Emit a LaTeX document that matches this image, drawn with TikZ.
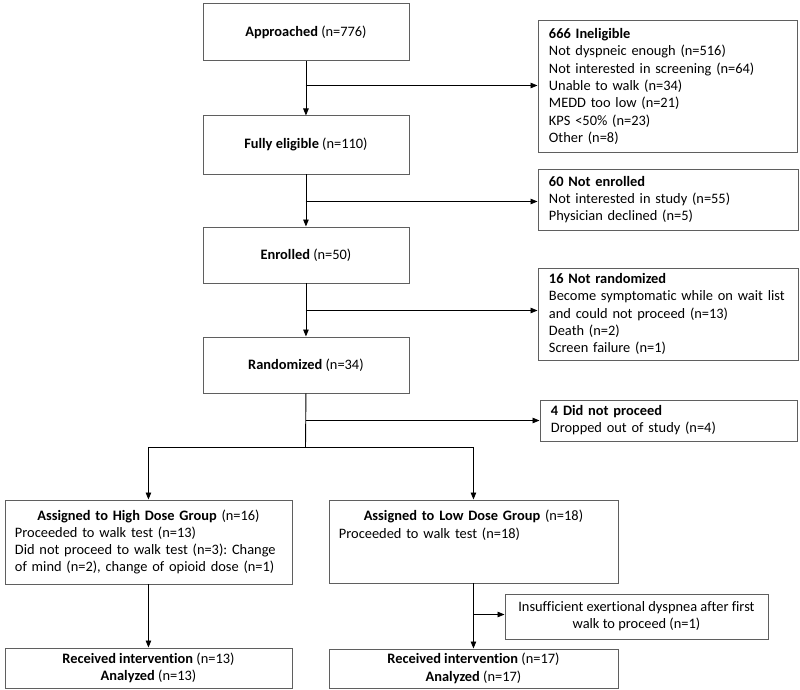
\documentclass[tikz,border=0pt]{standalone}
\usepackage{fontspec}
\setmainfont{Carlito}[Ligatures=NoCommon]
\usetikzlibrary{arrows.meta}
\definecolor{boxgray}{RGB}{95,95,95}
\frenchspacing
\begin{document}
\begin{tikzpicture}[x=1pt,y=-1pt,
  box/.style={draw=boxgray, line width=0.9pt, inner sep=0pt, anchor=north west,
    font=\fontsize{14.4}{17.3}\selectfont},
  mainbox/.style={box, align=center},
  sidebox/.style={box, align=left, inner xsep=11pt},
  arr/.style={line width=0.9pt, -{Triangle[length=7pt,width=5.5pt]}},
  ln/.style={line width=0.9pt}]
\useasboundingbox (0,0) rectangle (800,690);

% main column
\node[mainbox, minimum width=206pt, minimum height=57pt] (appr) at (202.5,3.5) {\textbf{Approached} (n=776)};
\node[mainbox, minimum width=206pt, minimum height=58pt] (elig) at (202.5,115.5) {\textbf{Fully eligible} (n=110)};
\node[mainbox, minimum width=206pt, minimum height=56pt] (enr) at (202.5,226.5) {\textbf{Enrolled} (n=50)};
\node[mainbox, minimum width=206pt, minimum height=56pt] (rand) at (202.5,336.5) {\textbf{Randomized} (n=34)};

% side boxes
\node[sidebox, minimum width=259pt, minimum height=131pt, text width=237pt] (inel) at (537.5,20.5)
  {\textbf{666 Ineligible}\\Not dyspneic enough (n=516)\\Not interested in screening (n=64)\\Unable to walk (n=34)\\MEDD too low (n=21)\\KPS <50\% (n=23)\\Other (n=8)};
\node[sidebox, minimum width=260pt, minimum height=61pt, text width=238pt] (nenr) at (537.5,168.5)
  {\textbf{60 Not enrolled}\\Not interested in study (n=55)\\Physician declined (n=5)};
\node[sidebox, minimum width=260pt, minimum height=92pt, text width=238pt] (nrand) at (537.5,267.5)
  {\textbf{16 Not randomized}\\Become symptomatic while on wait list\\and could not proceed (n=13)\\Death (n=2)\\Screen failure (n=1)};
\node[sidebox, minimum width=257pt, minimum height=41pt, text width=235pt] (dnp) at (539.5,399.5)
  {\textbf{4 Did not proceed}\\Dropped out of study (n=4)};

% groups
\node[box, align=left, inner xsep=10pt, minimum width=287pt, minimum height=84pt, text width=267pt] (high) at (4.5,499.5)
  {{\centering\textbf{Assigned to High Dose Group} (n=16)\par}Proceeded to walk test (n=13)\\Did not proceed to walk test (n=3): Change\\of mind (n=2), change of opioid dose (n=1)};
\node[box, align=left, inner xsep=10pt, minimum width=289pt, minimum height=83pt, text width=269pt] (low) at (328.5,499.5)
  {{\centering\textbf{Assigned to Low Dose Group} (n=18)\par}Proceeded to walk test (n=18)\par\mbox{}\par\mbox{}};
\node[mainbox, minimum width=263pt, minimum height=45pt] (insuf) at (504.5,593.5)
  {Insufficient exertional dyspnea after first\\walk to proceed (n=1)};
\node[mainbox, minimum width=287pt, minimum height=40pt] (rec1) at (4.5,647.5)
  {\textbf{Received intervention} (n=13)\\\textbf{Analyzed} (n=13)};
\node[mainbox, minimum width=289pt, minimum height=39pt] (rec2) at (328.5,648.5)
  {\textbf{Received intervention} (n=17)\\\textbf{Analyzed} (n=17)};

% connectors
\draw[arr] (appr.south) -- (elig.north);
\draw[arr] (elig.south) -- (enr.north);
\draw[arr] (enr.south) -- (rand.north);
\coordinate (b1) at (305.5,85.5);
\coordinate (b2) at (305.5,201.5);
\coordinate (b3) at (305.5,310.5);
\coordinate (b4) at (305.5,420.5);
\coordinate (split) at (305.5,447.5);
\draw[arr] (b1) -- (b1 -| inel.west);
\draw[arr] (b2) -- (b2 -| nenr.west);
\draw[arr] (b3) -- (b3 -| nrand.west);
\draw[ln] (rand.south) -- (split);
\draw[arr] (b4) -- (b4 -| dnp.west);
\draw[arr] (split) -| (high.north);
\draw[arr] (split) -| (low.north);
\draw[arr] (high.south) -- (rec1.north);
\draw[arr] (low.south) -- (rec2.north);
\coordinate (b5) at (473,614.5);
\draw[arr] (b5) -- (b5 -| insuf.west);
\end{tikzpicture}
\end{document}
